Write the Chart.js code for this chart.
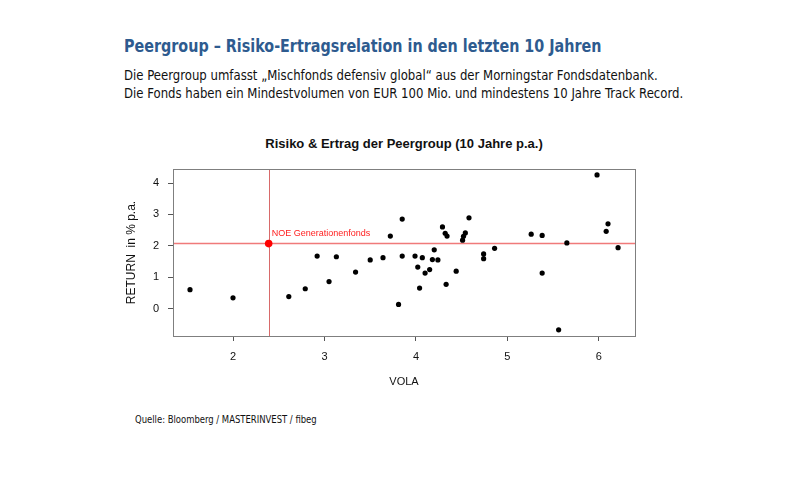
<!DOCTYPE html>
<html>
<head>
<meta charset="utf-8">
<script src="https://cdn.jsdelivr.net/npm/chart.js@4"></script>
<style>
    body { margin: 0; width: 800px; height: 480px; background: #fff; position: relative; overflow: hidden; }
    .txt { position: absolute; white-space: nowrap; transform-origin: left top; }
    #head { left: 124px; top: 35px; font: bold 18px "DejaVu Sans Condensed", sans-serif; color: #2e5b8f; transform: scaleX(0.885); }
    #sub { left: 124px; top: 66px; font: 14px/18px "DejaVu Sans Condensed", sans-serif; color: #111; transform: scaleX(0.93); }
    #ctitle { left: 404px; top: 136px; transform: translateX(-50%); font: bold 13px "Liberation Sans", Arial, sans-serif; color: #111; }
    #src { left: 135px; top: 414px; font: 10px "DejaVu Sans Condensed", sans-serif; color: #111; transform: scaleX(0.94); }
    #wrap { position: absolute; left: 0; top: 0; width: 800px; height: 480px; }
</style>
</head>
<body>

<div class="txt" id="head">Peergroup – Risiko-Ertragsrelation in den letzten 10 Jahren</div>
<div class="txt" id="sub">Die Peergroup umfasst „Mischfonds defensiv global“ aus der Morningstar Fondsdatenbank.<br>Die Fonds haben ein Mindestvolumen von EUR 100 Mio. und mindestens 10 Jahre Track Record.</div>
<div class="txt" id="ctitle">Risiko &amp; Ertrag der Peergroup (10 Jahre p.a.)</div>
<div class="txt" id="src">Quelle: Bloomberg / MASTERINVEST / fibeg</div>

<div id="wrap"><canvas id="riskChart"></canvas></div>

<script>
// Peer funds: volatility and return (% p.a.)
const peerVola = [
    1.53, 2.00, 2.61, 2.79, 2.92, 3.05, 3.13, 3.34, 3.50, 3.64,
    3.72, 3.81, 3.85, 3.85, 3.99, 4.02, 4.04, 4.07, 4.10, 4.15,
    4.18, 4.20, 4.24, 4.29, 4.32, 4.34, 4.33, 4.44, 4.51, 4.52,
    4.54, 4.58, 4.74, 4.74, 4.86, 5.26, 5.38, 5.38, 5.56, 5.65,
    5.98, 6.08, 6.10, 6.21
];
const peerReturn = [
    0.60, 0.34, 0.38, 0.63, 1.67, 0.86, 1.65, 1.16, 1.55, 1.62,
    2.31, 0.13, 2.85, 1.67, 1.67, 1.32, 0.65, 1.62, 1.13, 1.24,
    1.56, 1.87, 1.55, 2.60, 2.40, 2.31, 0.77, 1.19, 2.18, 2.30,
    2.41, 2.89, 1.74, 1.59, 1.92, 2.37, 2.33, 1.13, -0.68, 2.09,
    4.26, 2.46, 2.70, 1.94
];

// NOE Generationenfonds
const noeName = "NOE Generationenfonds";
const noeVola = 2.39;
const noeReturn = 2.07;

const xTicks = [2, 3, 4, 5, 6];
const yTicks = [0, 1, 2, 3, 4];

const peerPoints = peerVola.map((v, i) => ({ x: v, y: peerReturn[i] }));

/*
 * Reference lines through the NOE fund, frame and label
 */
const noePlugin = {
    id: "noeLines",
    beforeDatasetsDraw(chart) {
        const { ctx, chartArea, scales } = chart;
        const px = scales.x.getPixelForValue(noeVola);
        const py = scales.y.getPixelForValue(noeReturn);
        ctx.save();
        ctx.strokeStyle = "#f07a7a";
        ctx.lineWidth = 1.5;
        ctx.beginPath();
        ctx.moveTo(chartArea.left, py);
        ctx.lineTo(chartArea.right, py);
        ctx.stroke();
        ctx.strokeStyle = "#d86a6a";
        ctx.lineWidth = 1;
        ctx.beginPath();
        ctx.moveTo(Math.round(px) + 0.5, chartArea.top);
        ctx.lineTo(Math.round(px) + 0.5, chartArea.bottom);
        ctx.stroke();
        ctx.restore();
    },
    afterDatasetsDraw(chart) {
        const { ctx, chartArea, scales } = chart;
        const px = scales.x.getPixelForValue(noeVola);
        const py = scales.y.getPixelForValue(noeReturn);
        ctx.save();
        ctx.strokeStyle = "#7f7f7f";
        ctx.lineWidth = 1;
        ctx.strokeRect(chartArea.left + 0.5, chartArea.top + 0.5,
            chartArea.right - chartArea.left, chartArea.bottom - chartArea.top);
        ctx.fillStyle = "#ff2020";
        ctx.font = "9px 'Liberation Sans', Arial, sans-serif";
        ctx.textBaseline = "middle";
        ctx.fillText(noeName, px + 3, py - 10);
        ctx.restore();
    }
};

const ctx = document.getElementById("riskChart");

new Chart(ctx, {

    type: "scatter",

    data: {
        datasets: [
            {
                label: "Peergroup",
                data: peerPoints,
                backgroundColor: "#000",
                borderWidth: 0,
                pointRadius: 2.6,
                order: 2
            },
            {
                label: noeName,
                data: [{ x: noeVola, y: noeReturn }],
                backgroundColor: "#ff0000",
                borderWidth: 0,
                pointRadius: 3.8,
                order: 1
            }
        ]
    },

    options: {

        responsive: true,
        maintainAspectRatio: false,
        animation: false,

        layout: {
            padding: { left: 120, right: 165, top: 169, bottom: 87 }
        },

        plugins: {
            legend: { display: false },
            tooltip: { enabled: false }
        },

        scales: {

            x: {
                type: "linear",
                min: 1.344,
                max: 6.395,
                afterBuildTicks: scale => {
                    scale.ticks = xTicks.map(v => ({ value: v }));
                },
                afterFit: scale => { scale.height = 57; },
                border: { display: false },
                grid: { drawOnChartArea: false, tickLength: 5, color: "#555" },
                ticks: {
                    padding: 9,
                    color: "#111",
                    font: { family: "Liberation Sans", size: 11 }
                },
                title: {
                    display: true,
                    text: "VOLA",
                    color: "#111",
                    padding: { top: 4, bottom: 4 },
                    font: { family: "Liberation Sans", size: 11 }
                }
            },

            y: {
                type: "linear",
                min: -0.877,
                max: 4.448,
                afterBuildTicks: scale => {
                    scale.ticks = yTicks.map(v => ({ value: v }));
                },
                afterFit: scale => { scale.width = 53; },
                border: { display: false },
                grid: { drawOnChartArea: false, tickLength: 5, color: "#555" },
                ticks: {
                    padding: 9,
                    color: "#111",
                    font: { family: "Liberation Sans", size: 11 }
                },
                title: {
                    display: true,
                    text: "RETURN  in % p.a.",
                    color: "#111",
                    padding: { top: 4, bottom: 4 },
                    font: { family: "Liberation Sans", size: 12 }
                }
            }

        }

    },

    plugins: [noePlugin]

});
</script>
</body>
</html>
